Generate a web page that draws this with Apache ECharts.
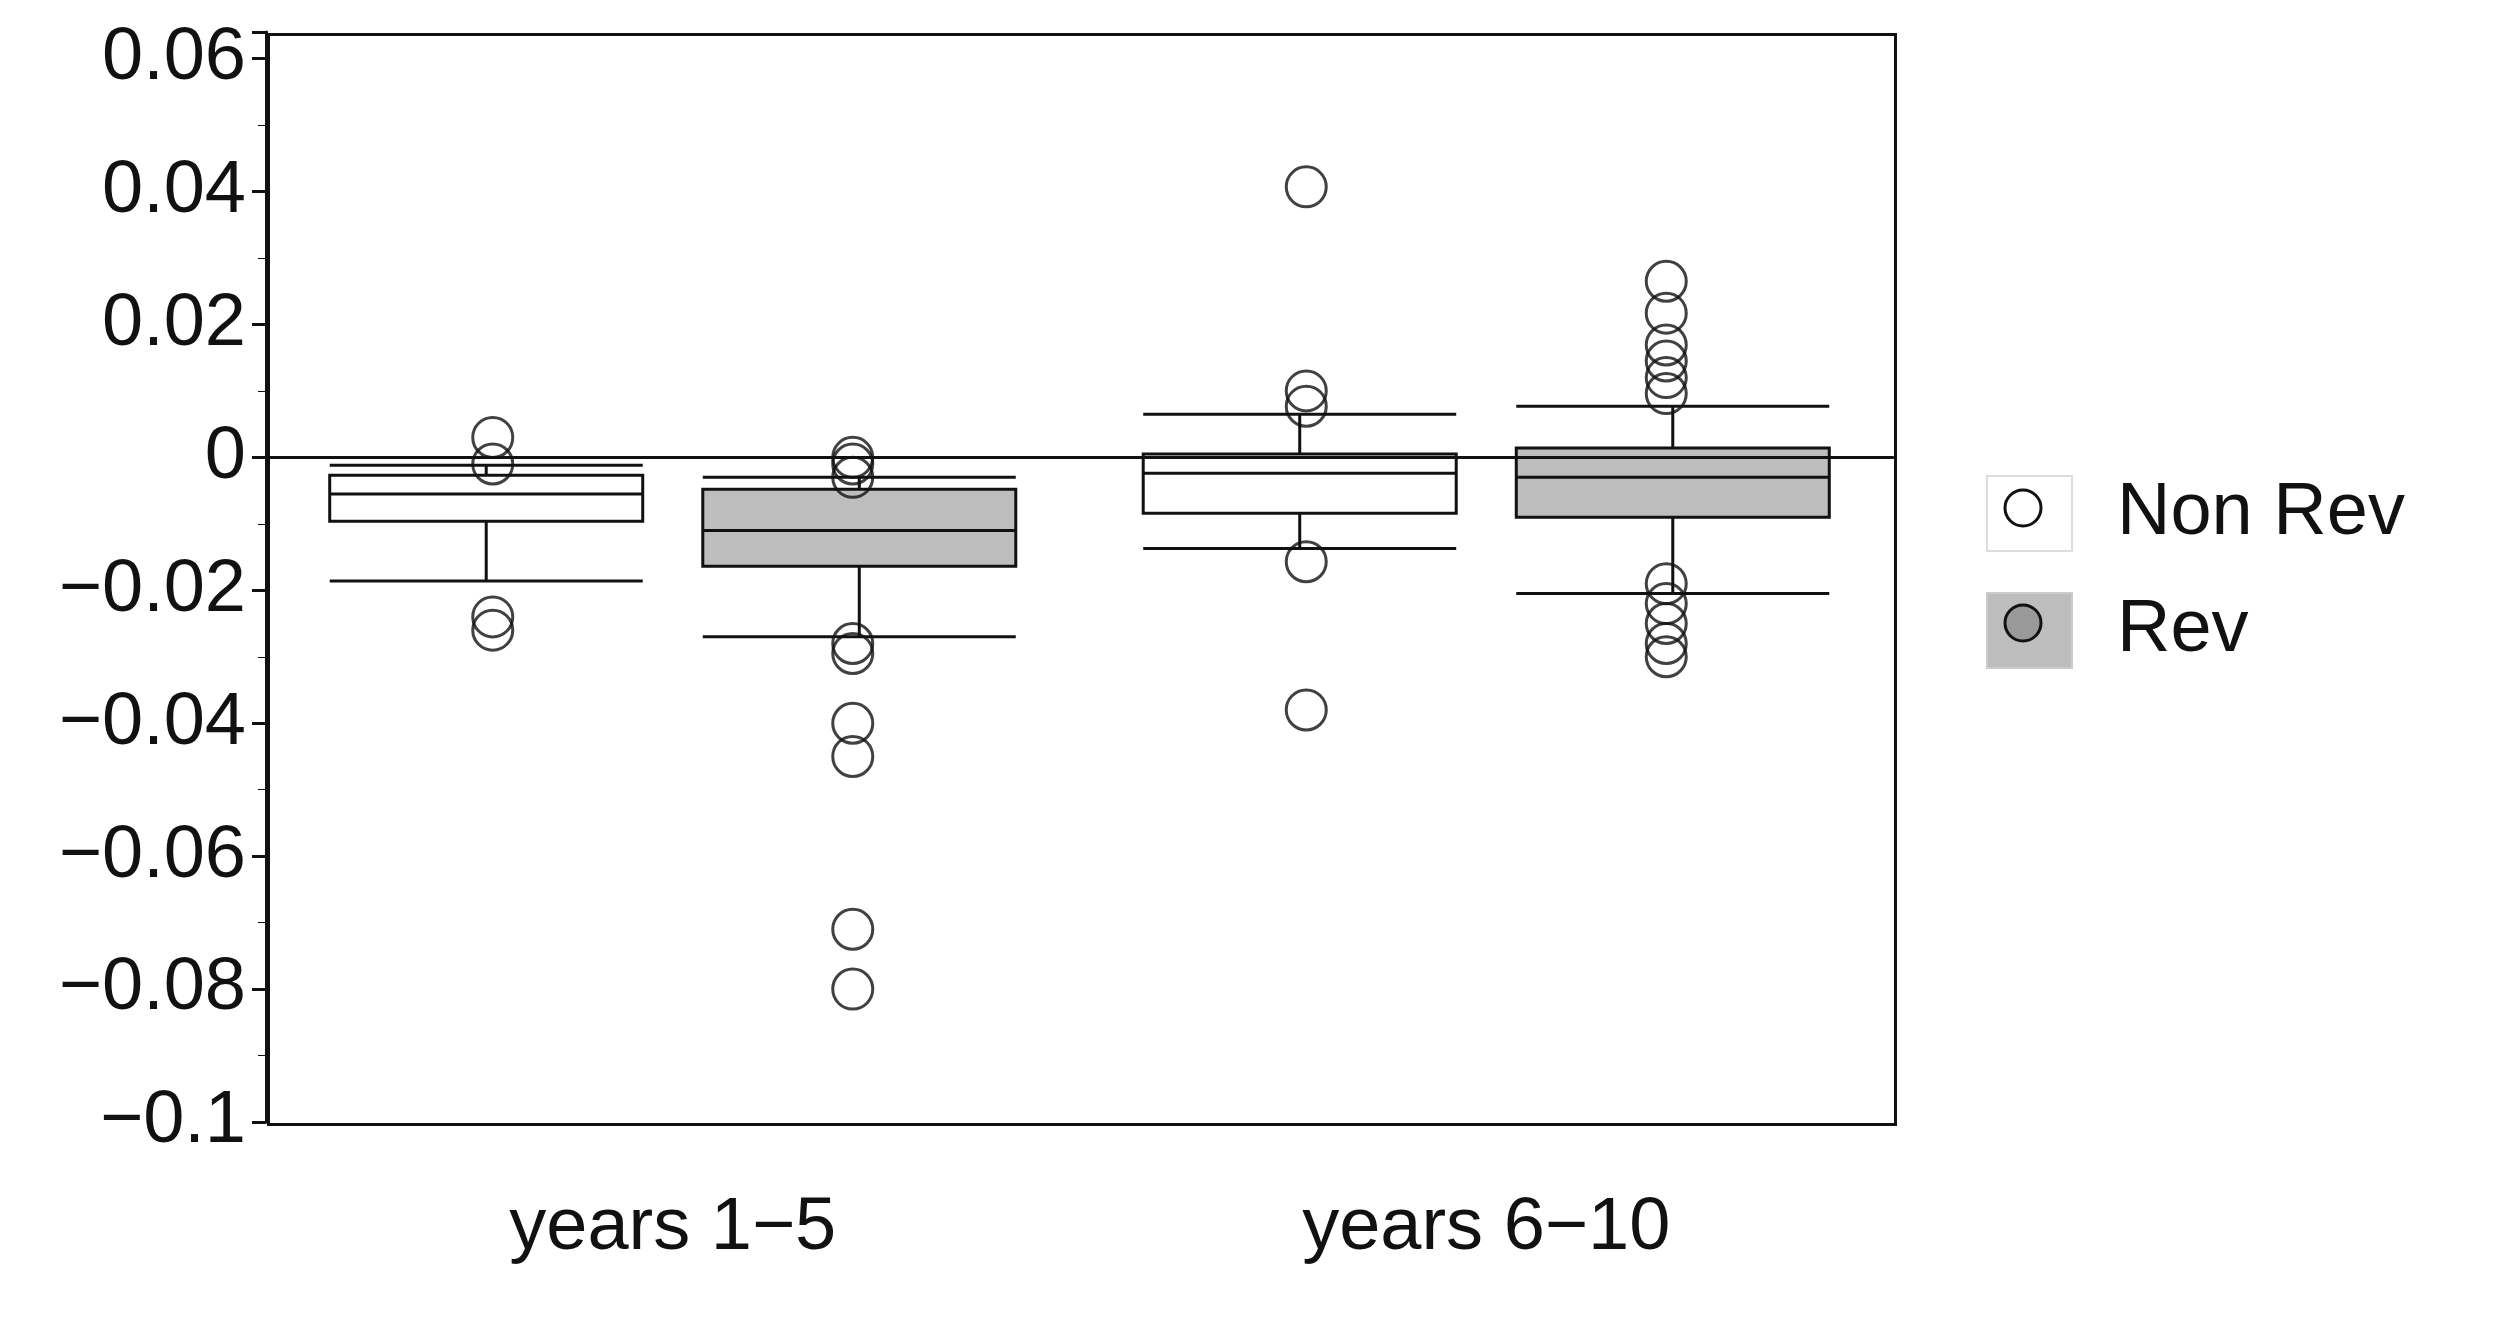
<!DOCTYPE html>
<html><head><meta charset="utf-8">
<script src="https://cdn.jsdelivr.net/npm/echarts@6/dist/echarts.min.js"></script>
<style>html,body{margin:0;padding:0;background:#fff}#c{width:2493px;height:1320px}</style>
</head><body><div id="c"></div>
<script>
const categories = ['years 1\u22125', 'years 6\u221210'];
const seriesNames = ['Non Rev', 'Rev'];
// [min(whisker), Q1, median, Q3, max(whisker)]
const nonRevBox = [[-0.0186, -0.0096, -0.0055, -0.0027, -0.0012], [-0.0137, -0.0084, -0.0024, 0.0005, 0.0065]];
const revBox = [[-0.027, -0.0164, -0.011, -0.0048, -0.003], [-0.0205, -0.009, -0.003, 0.0014, 0.0077]];
const nonRevOutliers = [[0, 0.003], [0, -0.001], [0, -0.024], [0, -0.026],
  [1, 0.0407], [1, 0.010], [1, 0.0077], [1, -0.0157], [1, -0.038]];
const revOutliers = [[0, 0.0], [0, -0.001], [0, -0.003], [0, -0.028], [0, -0.0295], [0, -0.040], [0, -0.045], [0, -0.071], [0, -0.080],
  [1, 0.0265], [1, 0.0217], [1, 0.0169], [1, 0.0145], [1, 0.012], [1, 0.0096],
  [1, -0.019], [1, -0.022], [1, -0.025], [1, -0.028], [1, -0.030]];

const chart = echarts.init(document.getElementById('c'));
const font = 'Liberation Sans, Arial, sans-serif';
const fmt = v => { const n = Number(v.toFixed(2)); return n === 0 ? '0' : String(n).replace('-', '\u2212'); };
const boxBarW = 313;
const offset = 180;
chart.setOption({
  animation: false,
  grid: { left: 266, right: 600, top: 32, bottom: 198 },
  legend: {
    data: [
      { name: 'Non Rev', itemStyle: { color: '#fff', borderColor: '#ddd', borderWidth: 2 } },
      { name: 'Rev', itemStyle: { color: '#bdbdbd', borderColor: '#ccc', borderWidth: 2 } }
    ],
    orient: 'vertical', left: 1981, top: 470, itemGap: 40,
    itemWidth: 85, itemHeight: 75, icon: 'rect',
    textStyle: { fontSize: 74, fontFamily: font, color: '#111', padding: [0, 0, 0, 40] }
  },
  xAxis: {
    type: 'category', data: categories, boundaryGap: true,
    axisLine: { lineStyle: { color: '#111', width: 3 } },
    axisTick: { alignWithLabel: true, length: 14, lineStyle: { width: 6, color: '#111' } },
    axisLabel: { fontSize: 74, fontFamily: font, color: '#111', margin: 70 },
    splitLine: { show: false }
  },
  yAxis: {
    type: 'value', min: -0.1, max: 0.064, interval: 0.02,
    axisLine: { show: true, lineStyle: { color: '#111', width: 3 } },
    axisTick: { show: true, length: 14, lineStyle: { width: 3, color: '#111' } },
    minorTick: { show: true, splitNumber: 2, length: 8 },
    axisLabel: { fontSize: 74, fontFamily: font, color: '#111', formatter: fmt, showMaxLabel: false, margin: 20 },
    splitLine: { show: false }
  },
  graphic: [
    { type: 'rect', left: 266, top: 32, shape: { width: 1627, height: 1090 }, style: { fill: 'none', stroke: '#111', lineWidth: 3 }, silent: true },
    { type: 'circle', shape: { cx: 2023, cy: 508, r: 18 }, style: { fill: 'none', stroke: '#111', lineWidth: 3 }, z: 100 },
    { type: 'circle', shape: { cx: 2023, cy: 623, r: 18 }, style: { fill: '#999', stroke: '#111', lineWidth: 3 }, z: 100 }
  ],
  series: [
    { name: 'Non Rev', type: 'boxplot', data: nonRevBox, boxWidth: [boxBarW, boxBarW],
      itemStyle: { color: '#fff', borderColor: '#111', borderWidth: 3 },
      markLine: { silent: true, symbol: 'none', label: { show: false }, lineStyle: { color: '#111', width: 3, type: 'solid' }, data: [{ yAxis: 0 }] } },
    { name: 'Rev', type: 'boxplot', data: revBox, boxWidth: [boxBarW, boxBarW],
      itemStyle: { color: '#bdbdbd', borderColor: '#111', borderWidth: 3 } },
    { name: 'Non Rev', type: 'scatter', data: nonRevOutliers, symbol: 'circle', symbolSize: 40,
      symbolOffset: [-offset, 0], itemStyle: { color: 'rgba(0,0,0,0)', borderColor: '#111', borderWidth: 3 } },
    { name: 'Rev', type: 'scatter', data: revOutliers, symbol: 'circle', symbolSize: 40,
      symbolOffset: [offset, 0], itemStyle: { color: 'rgba(0,0,0,0)', borderColor: '#111', borderWidth: 3 } }
  ]
});
</script></body></html>
